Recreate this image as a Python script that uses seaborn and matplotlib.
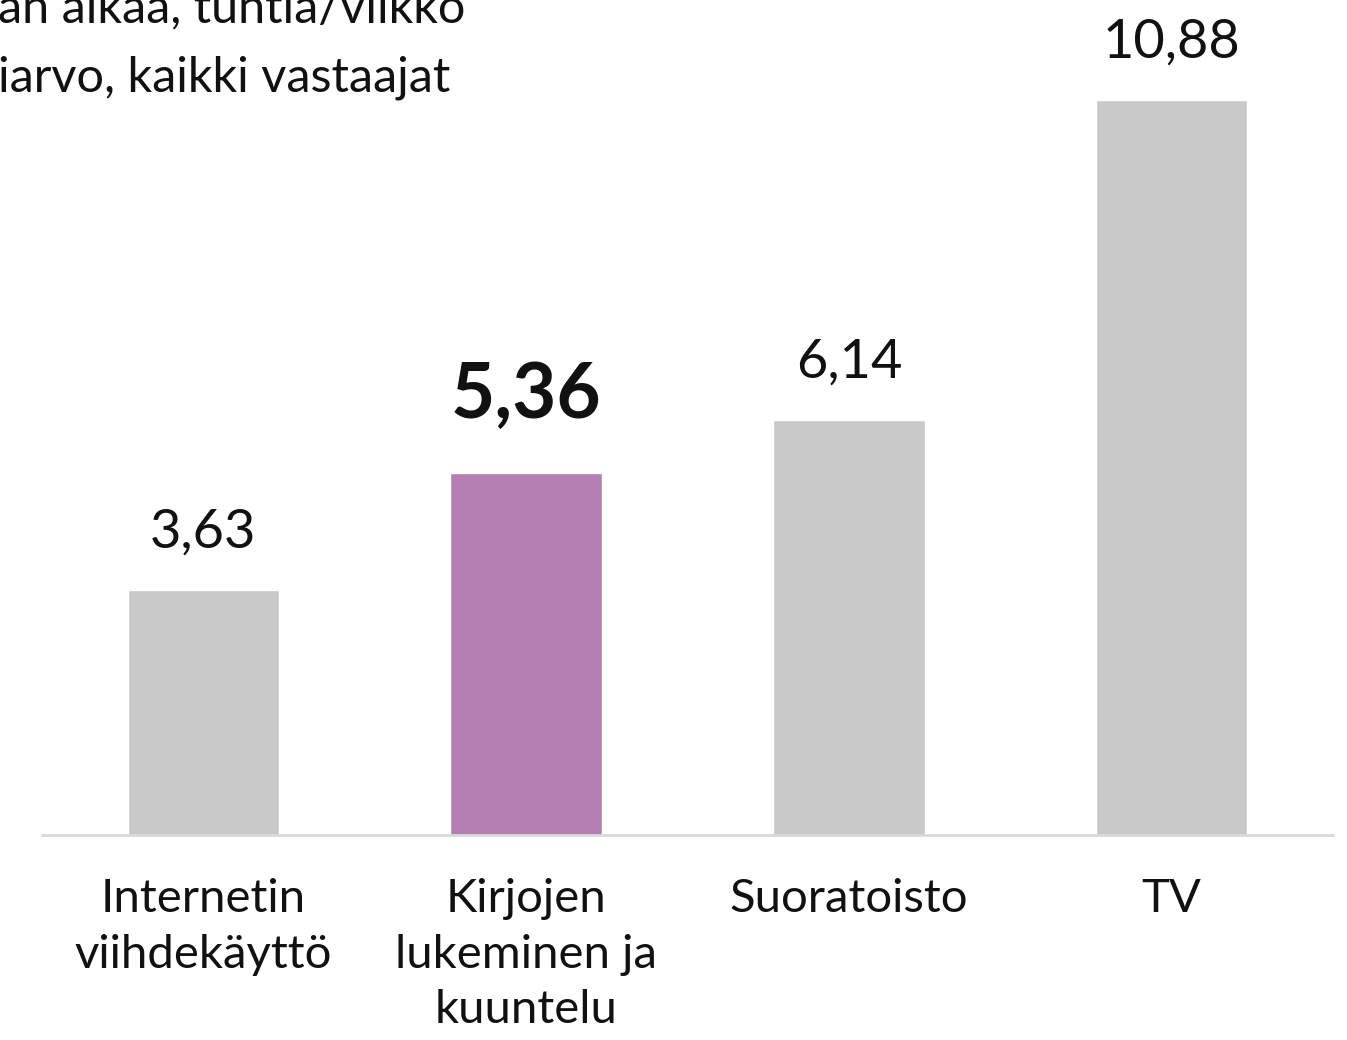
import matplotlib
matplotlib.use("Agg")
import matplotlib.pyplot as plt
import seaborn as sns
import pandas as pd

# Data
categories = ["Internetin\nviihdekäyttö", "Kirjojen\nlukeminen ja\nkuuntelu", "Suoratoisto", "TV"]
hours = [3.63, 5.36, 6.14, 10.88]
value_labels = ["3,63", "5,36", "6,14", "10,88"]
highlight = "Kirjojen\nlukeminen ja\nkuuntelu"
title_lines = ["an aikaa, tuntia/viikko", "iarvo, kaikki vastaajat"]

sns.set_theme(style="white")
plt.rcParams["font.family"] = ["Lato", "DejaVu Sans"]

df = pd.DataFrame({"cat": categories, "hours": hours})
colors = {c: ("#b47fb0" if c == highlight else "#c9c9c9") for c in categories}

fig = plt.figure(figsize=(13.47, 10.4), dpi=100)
ax = fig.add_axes([42 / 1347, 1 - 835 / 1040, (1333 - 42) / 1347, (835 - 24) / 1040])

sns.barplot(data=df, x="cat", y="hours", hue="cat", palette=colors,
            order=categories, width=0.47, legend=False, ax=ax, saturation=1)

ax.set_xlim(-0.5, 3.5)
ax.set_ylim(0, 12)
ax.set_xlabel("")
ax.set_ylabel("")
ax.set_yticks([])
for s in ["top", "right", "left"]:
    ax.spines[s].set_visible(False)
ax.spines["bottom"].set_color("#d9d9d9")
ax.spines["bottom"].set_linewidth(2)
ax.tick_params(axis="x", length=0, pad=31, labelsize=34, colors="#111111")
for lab in ax.get_xticklabels():
    lab.set_linespacing(1.4)
    lab.set_verticalalignment("top")

# value labels above bars
for i, (v, t) in enumerate(zip(hours, value_labels)):
    bold = categories[i] == highlight
    ax.annotate(t, (i, v), xytext=(0, 24 if not bold else 30), textcoords="offset points",
                ha="center", va="bottom", fontsize=55 if bold else 39,
                fontweight="bold" if bold else "normal", color="#111111")

# cropped title lines at the top left
fig.text(-2 / 1347, 1 - 22 / 1040, title_lines[0], fontsize=35, ha="left", va="baseline", color="#111111")
fig.text(-2 / 1347, 1 - 92 / 1040, title_lines[1], fontsize=35, ha="left", va="baseline", color="#111111")

fig.savefig("out.png", dpi=100)
